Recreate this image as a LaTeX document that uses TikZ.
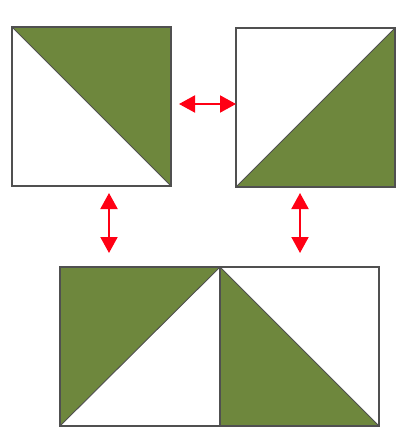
\documentclass[tikz,border=0pt]{standalone}
\usetikzlibrary{arrows.meta}
\definecolor{olive}{RGB}{110,135,61}
\definecolor{arrred}{RGB}{255,0,20}
\definecolor{edge}{RGB}{80,80,80}
\tikzset{
  sq/.style={rectangle, minimum width=159pt, minimum height=159pt, inner sep=0pt, outer sep=0pt},
  border/.style={draw=edge, line width=1.4pt},
  diag/.style={draw=edge, line width=0.9pt},
  greenpart/.style={fill=olive},
  dbl/.style={draw=arrred, line width=2pt, {Triangle[length=16pt,width=17pt]}-{Triangle[length=16pt,width=17pt]}}
}
\begin{document}
\begin{tikzpicture}[x=1pt,y=-1pt]
\useasboundingbox (0,0) rectangle (416,438);
% squares
\path node[sq] (A) at (91.5,106.5) {};
\path node[sq] (B) at (315.5,107.5) {};
\path node[sq, minimum width=160pt] (C) at (140,346.5) {};
\path node[sq] (D) at (299.5,346.5) {};
% green triangles
\fill[greenpart] (A.north west) -- (A.north east) -- (A.south east) -- cycle;
\fill[greenpart] (B.south west) -- (B.north east) -- (B.south east) -- cycle;
\fill[greenpart] (C.north west) -- (C.north east) -- (C.south west) -- cycle;
\fill[greenpart] (D.north west) -- (D.south west) -- (D.south east) -- cycle;
% diagonals
\draw[diag] (A.north west) -- (A.south east);
\draw[diag] (B.south west) -- (B.north east);
\draw[diag] (C.south west) -- (C.north east);
\draw[diag] (D.north west) -- (D.south east);
% borders
\foreach \n in {A,B,C,D} \draw[border] (\n.north west) rectangle (\n.south east);
% arrows
\coordinate (h1) at (179,104);
\coordinate (h2) at (236,104);
\coordinate (l1) at (109,193);
\coordinate (l2) at (109,253);
\coordinate (r1) at (300,193);
\coordinate (r2) at (300,253);
\draw[dbl] (h1) -- (h2);
\draw[dbl] (l1) -- (l2);
\draw[dbl] (r1) -- (r2);
\end{tikzpicture}
\end{document}
